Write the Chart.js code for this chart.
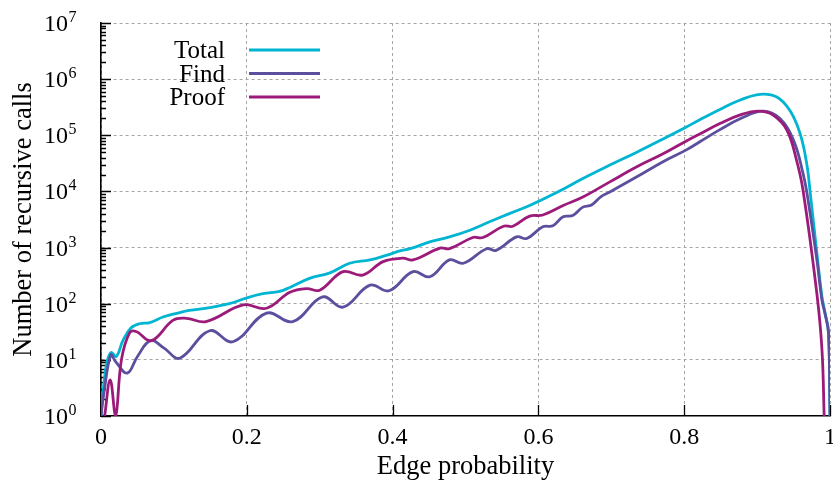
<!DOCTYPE html>
<html>
<head>
<meta charset="utf-8">
<script src="https://cdn.jsdelivr.net/npm/chart.js@4/dist/chart.umd.min.js"></script>
<style>
html,body{margin:0;padding:0;background:#fff}
canvas{display:block}
</style>
</head>
<body>
<canvas id="plot" width="833" height="488"></canvas>
<script>
// edge probability samples and recursive call counts per series
const totalX=[0,0.002,0.005,0.009,0.014,0.021,0.030,0.041,0.053,0.067,0.085,0.105,0.121,0.149,0.176,0.199,0.222,0.245,0.259,0.286,0.314,0.341,0.369,0.391,0.410,0.424,0.451,0.478,0.506,0.533,0.561,0.588,0.625,0.661,0.698,0.735,0.771,0.803,0.822,0.849,0.876,0.904,0.927,0.945,0.959,0.968,0.973,0.982,0.989,0.993,0.998,1];
const totalCalls=[1,2,5,10,13.5,11.5,22,37,44,46,58,68,76,85,100,126,151,166,195,282,355,525,603,724,871,955,1260,1550,2040,2880,4070,5620,9550,17000,29500,50100,86000,141000,191000,288000,420000,537000,479000,275000,107000,31600,9120,794,132,71,30,1];

const findX=[0,0.004,0.0135,0.020,0.036,0.050,0.068,0.087,0.108,0.149,0.181,0.227,0.263,0.304,0.332,0.369,0.395,0.428,0.451,0.478,0.497,0.529,0.542,0.570,0.584,0.606,0.620,0.634,0.647,0.661,0.673,0.686,0.698,0.735,0.771,0.803,0.822,0.849,0.876,0.908,0.931,0.950,0.963,0.970,0.982,0.989,0.993,0.998,1];
const findCalls=[1,2.6,12.3,9.3,5.8,11.5,22,16,10.7,33,21,68,48,132,87,214,170,372,302,603,525,955,891,1550,1450,2340,2450,3550,3720,5250,5750,8100,9770,18200,33900,55000,77600,126000,195000,269000,200000,81300,20900,6920,603,115,68,30,1];

const proofX=[0.005,0.0126,0.020,0.028,0.039,0.048,0.069,0.099,0.117,0.144,0.195,0.227,0.259,0.282,0.300,0.332,0.359,0.387,0.414,0.428,0.465,0.478,0.510,0.524,0.552,0.565,0.588,0.606,0.634,0.661,0.698,0.735,0.771,0.803,0.822,0.849,0.876,0.902,0.922,0.941,0.954,0.963,0.982,0.989,0.992];
const proofCalls=[1,4.4,1,10,30,32,22,51,55,48,95,83,160,186,174,372,324,562,646,603,977,955,1510,1510,2400,2400,3630,3800,5620,7940,14800,27500,46800,79400,107000,162000,229000,269000,229000,123000,36300,10500,151,15,1];

const seriesNames=['Total','Find','Proof'];
const seriesColors=['#00b5d1','#5b4f9e','#9c1a7a'];
const xTicks=[0,0.2,0.4,0.6,0.8,1];
const yExps=[0,1,2,3,4,5,6,7];

const serif="'Liberation Serif','DejaVu Serif',serif";

function pts(xs,ys){return xs.map((x,i)=>({x,y:ys[i]}));}

// gnuplot-like decorations: inward ticks, 10^n labels, key in the upper left
const decor={
  id:'decor',
  beforeDatasetsDraw(chart){
    const {ctx,chartArea:a,scales:{x,y}}=chart;
    ctx.save();
    ctx.strokeStyle='#000';
    ctx.lineWidth=1.3;
    ctx.beginPath();
    yExps.forEach(e=>{
      for(let m=1;m<10;m++){
        const v=m*Math.pow(10,e);
        if(v>1e7) break;
        const py=Math.round(y.getPixelForValue(v))+0.5;
        ctx.moveTo(a.left,py);
        ctx.lineTo(a.left+(m===1?10:5),py);
      }
    });
    xTicks.forEach(t=>{
      if(t===0) return;
      const px=Math.round(x.getPixelForValue(t))+0.5;
      ctx.moveTo(px,a.bottom);
      ctx.lineTo(px,a.bottom-11);
    });
    ctx.stroke();
    ctx.restore();
  },
  afterDraw(chart){
    const {ctx,scales:{y}}=chart;
    ctx.save();
    ctx.fillStyle='#000';
    yExps.forEach(e=>{
      const py=y.getPixelForValue(Math.pow(10,e));
      ctx.textAlign='right';
      ctx.textBaseline='alphabetic';
      ctx.font='24px '+serif;
      ctx.fillText('10',68,py+8);
      ctx.textAlign='left';
      ctx.font='16px '+serif;
      ctx.fillText(String(e),68.5,py-1);
    });
    // key
    ctx.font='25px '+serif;
    ctx.textAlign='right';
    ctx.lineWidth=3;
    ctx.lineCap='butt';
    seriesNames.forEach((n,i)=>{
      const ly=50+i*23.5;
      ctx.fillStyle='#000';
      ctx.fillText(n,225,ly+8);
      ctx.strokeStyle=seriesColors[i];
      ctx.beginPath();
      ctx.moveTo(249,ly);
      ctx.lineTo(320,ly);
      ctx.stroke();
    });
    ctx.restore();
  }
};

const lineStyle={borderWidth:2.8,pointRadius:0,fill:false,tension:0.4};

new Chart(document.getElementById('plot'),{
  type:'line',
  data:{
    datasets:[
      {label:'Total',data:pts(totalX,totalCalls),borderColor:seriesColors[0],order:2,...lineStyle},
      {label:'Find',data:pts(findX,findCalls),borderColor:seriesColors[1],order:1,...lineStyle},
      {label:'Proof',data:pts(proofX,proofCalls),borderColor:seriesColors[2],order:0,...lineStyle}
    ]
  },
  options:{
    responsive:false,
    animation:false,
    layout:{padding:{top:23,right:3,left:0,bottom:0}},
    plugins:{legend:{display:false},tooltip:{enabled:false}},
    scales:{
      x:{
        type:'linear',min:0,max:1,
        afterBuildTicks:s=>{s.ticks=xTicks.map(v=>({value:v}));},
        afterFit:s=>{s.height=72;s.paddingLeft=0;s.paddingRight=0;},
        ticks:{
          callback:v=>String(Math.round(v*10)/10),
          font:{family:serif,size:24},color:'#000',padding:7,maxRotation:0
        },
        grid:{color:'#a6a6a6',lineWidth:1,drawTicks:false},
        border:{display:true,color:'#000',width:1.6,dash:[3,3]},
        title:{display:true,text:'Edge probability',font:{family:serif,size:26.5},color:'#000',padding:{top:0,bottom:5}}
      },
      y:{
        type:'logarithmic',min:1,max:1e7,
        afterBuildTicks:s=>{s.ticks=yExps.filter(e=>e>0).map(e=>({value:Math.pow(10,e)}));},
        afterFit:s=>{s.width=101;s.paddingTop=0;s.paddingBottom=0;},
        ticks:{display:false},
        grid:{color:'#a6a6a6',lineWidth:1,drawTicks:false},
        border:{display:true,color:'#000',width:1.6,dash:[3,3]},
        title:{display:true,text:'Number of recursive calls',font:{family:serif,size:26.5},color:'#000',padding:{top:8,bottom:0}}
      }
    }
  },
  plugins:[decor]
});
</script>
</body>
</html>
